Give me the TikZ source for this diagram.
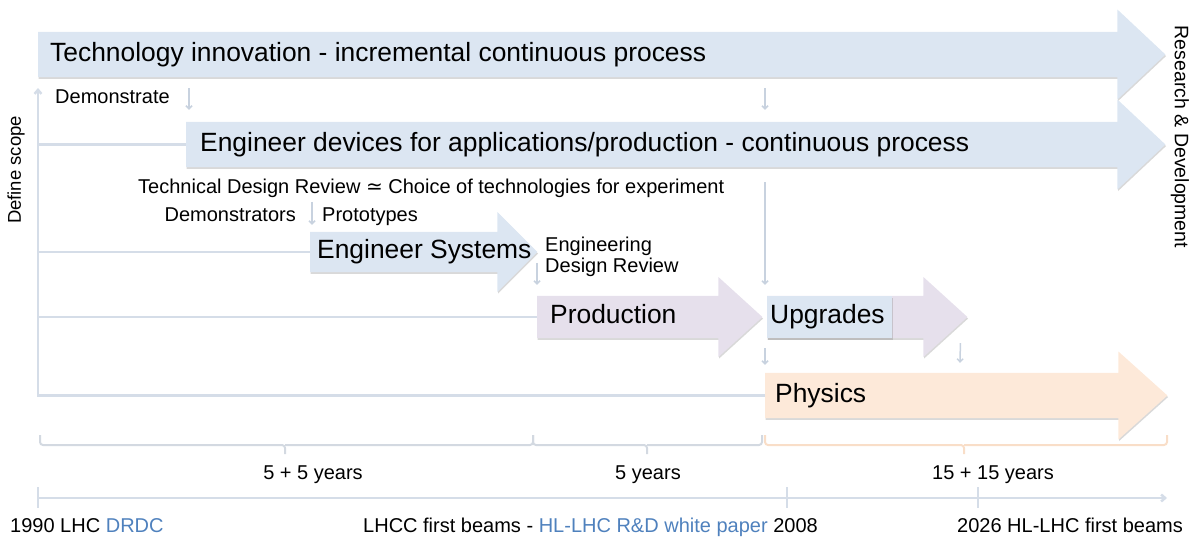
\documentclass[tikz,border=0pt]{standalone}
\usepackage{fontspec}
\setmainfont{Liberation Sans}
\newfontfamily\approxfont{DejaVu Sans}
\usetikzlibrary{arrows.meta,calc,positioning,shadows}
\definecolor{barBlue}{HTML}{DCE6F2}
\definecolor{barPurple}{HTML}{E6E0EC}
\definecolor{barPeach}{HTML}{FDE9D9}
\definecolor{guideLine}{HTML}{D5DDE8}
\definecolor{hintLine}{HTML}{C8D2DF}
\definecolor{braceGray}{HTML}{D3D9E1}
\definecolor{bracePeach}{HTML}{F9DEC8}
\definecolor{linkBlue}{HTML}{4F81BD}
\newcommand{\barfont}{\fontsize{26.4}{28}\selectfont}
\newcommand{\notefont}{\fontsize{20}{21}\selectfont}
% node, colour, half height of head, head length
\newcommand{\barshape}[4]{%
  \fill[#2, barshadow] (#1.north west) -- (#1.north east) -- ($(#1.east)+(0,-#3)$)
    -- ($(#1.east)+(#4,0)$) -- ($(#1.east)+(0,#3)$) -- (#1.south east) -- (#1.south west) -- cycle;}

\begin{document}
\begin{tikzpicture}[
  x=1pt, y=-1pt,
  barshadow/.style={drop shadow={shadow xshift=0.6pt, shadow yshift=-1.6pt, opacity=0.3, fill=black!50}},
  bar/.style={anchor=west, minimum height=45pt, inner sep=0pt},
  bartext/.style={anchor=base west, inner sep=0pt, font=\barfont},
  note/.style={inner sep=0pt, font=\notefont},
  guide/.style={draw=guideLine, line width=2.5pt},
  hint/.style={draw=hintLine, line width=1.5pt, -{Straight Barb[length=3pt,width=6pt]}},
  bracket/.style={line width=2pt, rounded corners=3pt}
]
\useasboundingbox (0,0) rectangle (1193,539);

% process arrows
\node[bar, minimum width=1079pt] (tech) at (38,54.5) {};
\barshape{tech}{barBlue}{45}{48}
\node[bartext] (tech-label) at ($(tech.west)+(12,6.5)$) {Technology innovation - incremental continuous process};

\node[bar, minimum width=931pt] (devices) at (186,144.5) {};
\barshape{devices}{barBlue}{45}{48}
\node[bartext] (devices-label) at ($(devices.west)+(14,6.5)$) {Engineer devices for applications/production - continuous process};

\node[bar, minimum width=187pt, minimum height=40pt] (systems) at (310,252) {};
\barshape{systems}{barBlue}{40}{40}
\node[bartext] (systems-label) at ($(systems.west)+(7,6.5)$) {Engineer Systems};

\node[bar, minimum width=181pt, minimum height=42pt] (production) at (537,317) {};
\barshape{production}{barPurple}{40}{44}
\node[bartext] (production-label) at ($(production.west)+(13,6.5)$) {Production};

\node[bar, minimum width=156pt, minimum height=42pt] (upgrade-arrow) at (767,317) {};
\barshape{upgrade-arrow}{barPurple}{40}{44}
\node[bar, minimum width=125pt, minimum height=42pt, fill=barBlue, barshadow] (upgrades) at (767,317) {};
\node[bartext] (upgrades-label) at ($(upgrades.west)+(3,6.5)$) {Upgrades};

\node[bar, minimum width=353pt] (physics) at (765,395.5) {};
\barshape{physics}{barPeach}{44}{49}
\node[bartext] (physics-label) at ($(physics.west)+(10,6.5)$) {Physics};

% scope lines
\coordinate (scope-top) at (38,88);
\draw[guide, -{Straight Barb[length=4pt,width=7pt]}] (physics.west) -| (scope-top);
\draw[guide] (scope-top |- devices.west) -- (devices.west);
\draw[guide] (scope-top |- systems.west) -- (systems.west);
\draw[guide] (scope-top |- production.west) -- (production.west);

% hand-over arrows
\draw[hint] ($(tech.south -| devices.west)+(3,11)$) -- ($(devices.north west)+(3,-12)$);
\draw[hint] ($(tech.south -| upgrades.west)+(-2,11)$) -- ($(devices.north -| upgrades.west)+(-2,-12)$);
\draw[hint] ($(devices.south -| upgrades.west)+(-2,15)$) -- ($(upgrades.north west)+(-2,-11)$);
\draw[hint] ($(systems.north west)+(2,-30)$) -- ($(systems.north west)+(2,-7)$);
\draw[hint] ($(production.north west)+(0,-33)$) -- ($(production.north west)+(0,-11)$);
\draw[hint] ($(upgrades.south -| physics.west)+(0,10)$) -- ($(physics.north west)+(0,-8)$);
\draw[hint] ($(upgrade-arrow.south east)+(37,5)$) -- ($(physics.north west)+(195,-10)$);

% notes
\node[note, anchor=base west] (demonstrate-label) at (55,103) {Demonstrate};
\node[note, anchor=base west] (review-label) at (138,193) {Technical Design Review {\approxfont ≃} Choice of technologies for experiment};
\node[note, anchor=base east] (demonstrators-label) at (296,221) {Demonstrators};
\node[note, anchor=base west] (prototypes-label) at (322,221) {Prototypes};
\node[note, anchor=north west, align=left] (edr-label) at (545,237) {Engineering\\Design Review};
\node[note, rotate=90, font=\fontsize{18.5}{20}\selectfont] (scope-label) at (16,170) {Define scope};
\node[note, rotate=-90, font=\fontsize{19.5}{20}\selectfont] (rd-label) at (1180,137) {Research \& Development};

% durations
\draw[bracket, draw=braceGray] (40,435) |- (285,445) -- (285,454);
\draw[bracket, draw=braceGray] (533,435) |- (285,445);
\draw[bracket, draw=braceGray] (533,435) |- (647,445) -- (647,454);
\draw[bracket, draw=braceGray] (762,435) |- (647,445);
\draw[bracket, draw=bracePeach] (765,435) |- (964,445) -- (964,454);
\draw[bracket, draw=bracePeach] (1167,435) |- (964,445);
\node[note, anchor=base] (span1-label) at (313,479) {5 + 5 years};
\node[note, anchor=base] (span2-label) at (648,479) {5 years};
\node[note, anchor=base] (span3-label) at (993,479) {15 + 15 years};

% time line
\coordinate (time-start) at (38,498);
\coordinate (time-end) at (1167,498);
\draw[guide, -{Straight Barb[length=4pt,width=7pt]}] (time-start) -- (time-end);
\foreach \x in {38,787,978}
  \draw[guide] (\x,487) -- (\x,508);
\node[note, anchor=base west] (drdc-label) at (10,532) {1990 LHC \textcolor{linkBlue}{DRDC}};
\node[note, anchor=base east] (lhcc-label) at (818,532) {LHCC first beams - \textcolor{linkBlue}{HL-LHC R\&D white paper} 2008};
\node[note, anchor=base west] (hllhc-label) at (957,532) {2026 HL-LHC first beams};
\end{tikzpicture}
\end{document}
